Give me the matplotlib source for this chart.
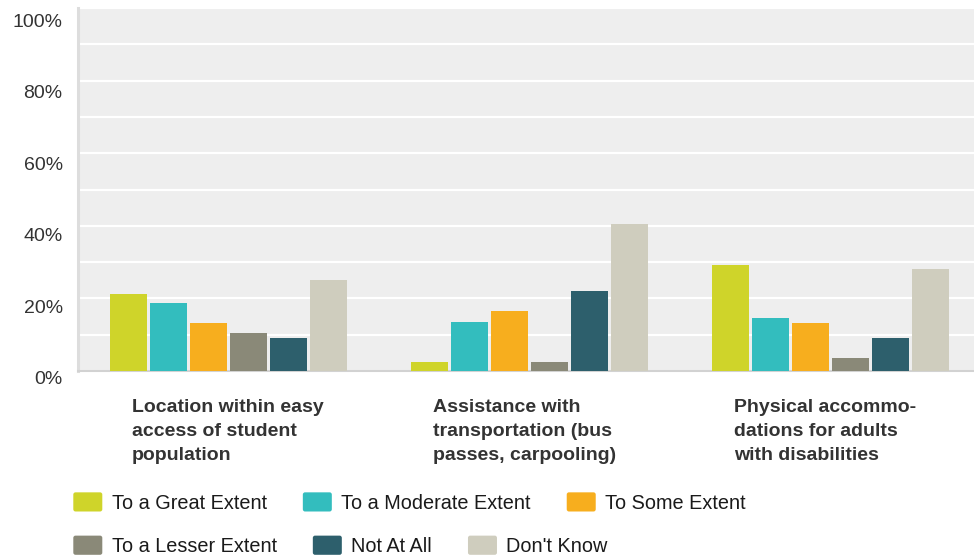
import matplotlib
matplotlib.use("Agg")
import matplotlib.pyplot as plt
import matplotlib.transforms as mtransforms
from matplotlib.patches import FancyBboxPatch
from matplotlib.legend_handler import HandlerPatch
import numpy as np

plt.rcParams['font.family'] = ['Liberation Sans', 'DejaVu Sans']

categories = ["Location within easy\naccess of student\npopulation",
              "Assistance with\ntransportation (bus\npasses, carpooling)",
              "Physical accommo-\ndations for adults\nwith disabilities"]
series_names = ["To a Great Extent", "To a Moderate Extent", "To Some Extent",
                "To a Lesser Extent", "Not At All", "Don't Know"]
great = [21.2, 2.6, 29.2]
moderate = [18.7, 13.5, 14.6]
some = [13.2, 16.5, 13.2]
lesser = [10.5, 2.6, 3.6]
not_at_all = [9.1, 22.0, 9.1]
dont_know = [25.1, 40.5, 28.1]
series_values = [great, moderate, some, lesser, not_at_all, dont_know]
colors = ["#CFD42A", "#33BDBE", "#F7AE1E", "#8A8978", "#2D5F6C", "#CFCDBE"]
yticks = [0, 20, 40, 60, 80, 100]
ytick_labels = ["0%", "20%", "40%", "60%", "80%", "100%"]


class RoundedSquare(HandlerPatch):
    def create_artists(self, legend, orig_handle, xdescent, ydescent,
                       width, height, fontsize, trans):
        p = FancyBboxPatch((-xdescent, -ydescent), width, height,
                           boxstyle="round,pad=0,rounding_size=1.6",
                           facecolor=orig_handle.get_facecolor(),
                           edgecolor='none', transform=trans)
        return [p]


W, H = 974, 557
fig = plt.figure(figsize=(W / 100, H / 100), dpi=100)
ax_left, ax_right = 78, 981
ax_bottom, ax_top = 371, 8
ax = fig.add_axes([ax_left / W, 1 - ax_bottom / H,
                   (ax_right - ax_left) / W, (ax_bottom - ax_top) / H])
ax.set_facecolor("#EEEEEE")

x = np.arange(len(categories))
step = 0.1329
width = 0.123
handles = []
for k, (vals, col, name) in enumerate(zip(series_values, colors, series_names)):
    b = ax.bar(x + (k - 2.5) * step, vals, width=width, color=col, label=name,
               zorder=3, linewidth=0)
    handles.append(b.patches[0])

ax.set_xlim(-0.5, 2.5)
ax.set_ylim(0, 100)
ax.set_yticks(yticks)
ax.set_yticklabels(ytick_labels)
ax.set_yticks(range(10, 100, 20), minor=True)
ax.grid(True, which='both', axis='y', color='white', linewidth=1.6, zorder=1)
ax.set_axisbelow(True)
ax.set_xticks([])
ax.tick_params(axis='y', which='both', length=0, pad=11, labelsize=14,
               labelcolor='#333333')

for v, lab in zip(yticks, ax.get_yticklabels()):
    dy = 6.7 + 5.8 * v / 100
    lab.set_transform(lab.get_transform() +
                      mtransforms.ScaledTranslation(0, -dy / 100, fig.dpi_scale_trans))

for s in ['top', 'right']:
    ax.spines[s].set_visible(False)
ax.spines['left'].set_color('#DDDDDD')
ax.spines['left'].set_linewidth(2.2)
ax.spines['bottom'].set_color('#D2D2D2')
ax.spines['bottom'].set_linewidth(1.5)

for i, cat in enumerate(categories):
    ax.annotate(cat, xy=(i - 0.322, 0), xycoords=('data', 'axes fraction'),
                xytext=(0, -28), textcoords='offset pixels',
                ha='left', va='top', fontsize=14, fontweight='bold',
                color='#333333', linespacing=1.55)

leg_size = 14.3
fs_px = leg_size * 100 / 72
leg_kw = dict(frameon=False, prop={'family': ['Liberation Sans'], 'size': leg_size},
              handlelength=29 / fs_px, handleheight=22 / fs_px,
              handletextpad=9.4 / fs_px, columnspacing=36 / fs_px, borderpad=0,
              borderaxespad=0, loc='center left', ncol=3, labelcolor='#1A1A1A',
              handler_map={matplotlib.patches.Rectangle: RoundedSquare()})
leg1 = fig.legend(handles[:3], series_names[:3],
                  bbox_to_anchor=(73.3 / W, 1 - 502.5 / H), **leg_kw)
leg2 = fig.legend(handles[3:], series_names[3:],
                  bbox_to_anchor=(73.3 / W, 1 - 545.8 / H), **leg_kw)

fig.savefig("out.png", dpi=100)
